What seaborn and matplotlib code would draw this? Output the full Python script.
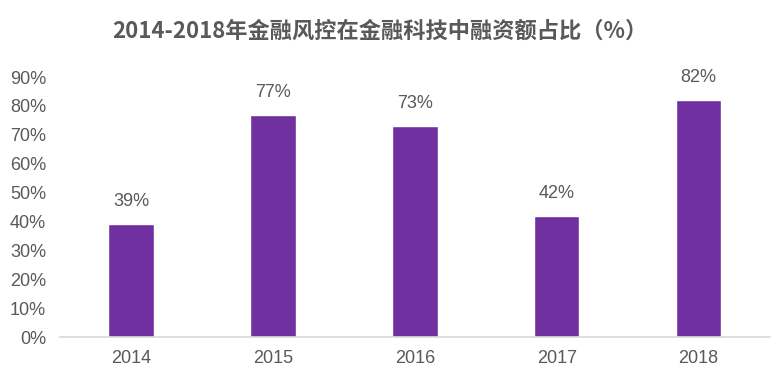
import matplotlib
matplotlib.use("Agg")
import matplotlib.pyplot as plt
import seaborn as sns
import pandas as pd
from matplotlib.ticker import FuncFormatter

years = ["2014", "2015", "2016", "2017", "2018"]
shares = [39, 77, 73, 42, 82]
yticks = [0, 10, 20, 30, 40, 50, 60, 70, 80, 90]

sns.set_theme(style="white")
plt.rcParams['font.family'] = ['Noto Sans CJK SC', 'DejaVu Sans']

df = pd.DataFrame({"year": years, "share": shares})

fig = plt.figure(figsize=(7.79, 3.72), dpi=100)
ax = fig.add_axes([0.077, 0.094, 0.911, 0.699])
sns.barplot(data=df, x="year", y="share", color="#7030A0", saturation=1,
            width=0.32, ax=ax)

ax.set_ylim(0, 90)
ax.set_xlim(-0.5, 4.5)
ax.set_yticks(yticks)
ax.yaxis.set_major_formatter(FuncFormatter(lambda v, p: f"{int(v)}%"))
ax.set_xlabel("")
ax.set_ylabel("")
for s in ["top", "right", "left"]:
    ax.spines[s].set_visible(False)
ax.spines["bottom"].set_color("#D9D9D9")
ax.spines["bottom"].set_linewidth(1.2)
ax.tick_params(axis="both", colors="#595959", labelsize=13, length=0)
ax.tick_params(axis="x", pad=9)
ax.tick_params(axis="y", pad=10)
for lab in ax.get_xticklabels() + ax.get_yticklabels():
    lab.set_family(["Liberation Sans", "DejaVu Sans"])

for i, v in enumerate(shares):
    ax.annotate(f"{v}%", (i, v), xytext=(0, 10), textcoords="offset points",
                ha="center", va="bottom", fontsize=13, color="#595959",
                family=["Liberation Sans", "DejaVu Sans"])

fig.text(0.487, 0.915, "2014-2018年金融风控在金融科技中融资额占比（%）",
         ha="center", va="center", fontsize=16, fontweight="bold",
         color="#595959")

fig.savefig("out.png", dpi=100, facecolor="white")
